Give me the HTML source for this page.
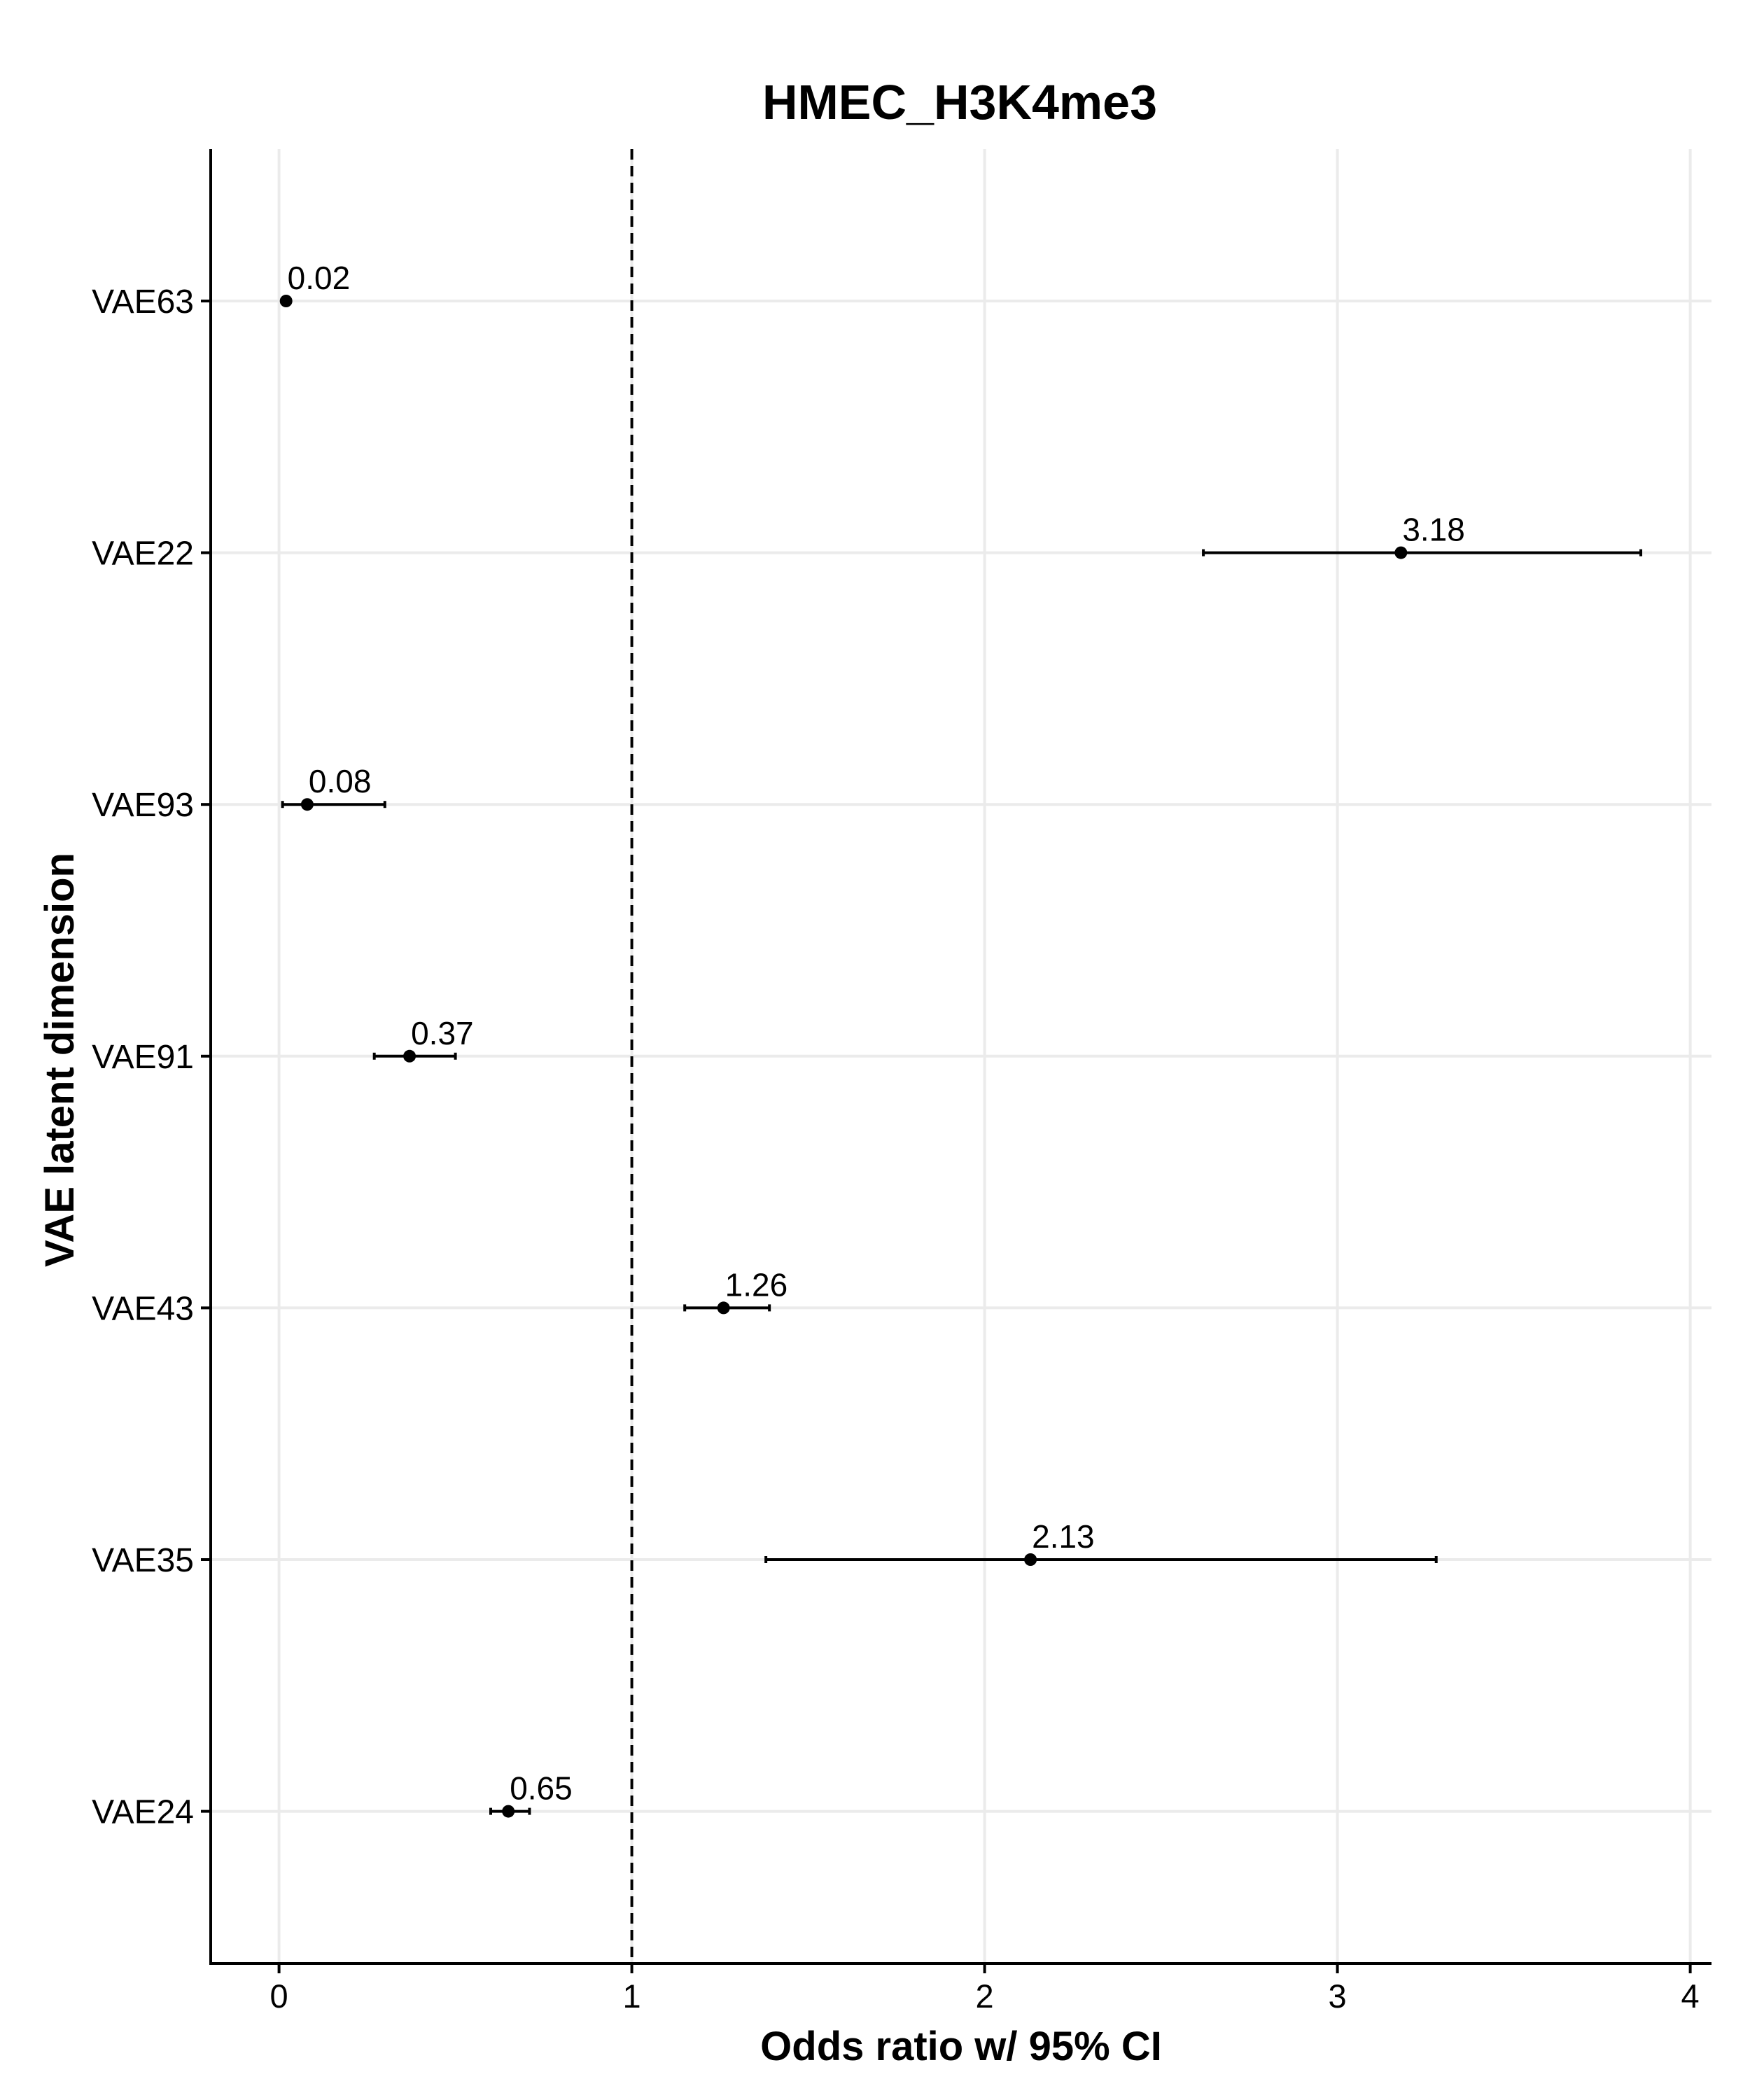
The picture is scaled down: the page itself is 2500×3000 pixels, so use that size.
<!DOCTYPE html>
<html><head><meta charset="utf-8"><style>
html,body{margin:0;padding:0;background:#fff}
svg{display:block}
text{font-family:"Liberation Sans",sans-serif}
</style></head><body>
<svg id="chart" width="2500" height="3000" viewBox="0 0 2500 3000" xmlns="http://www.w3.org/2000/svg">
<text x="1371" y="170" font-size="70" font-weight="bold" text-anchor="middle">HMEC_H3K4me3</text>
<text x="1373" y="2943" font-size="58" font-weight="bold" text-anchor="middle">Odds ratio w/ 95% CI</text>
<text x="0" y="0" font-size="58" font-weight="bold" text-anchor="middle" transform="translate(105,1514) rotate(-90)">VAE latent dimension</text>
<g id="grid"></g><g id="marks"></g><g id="axes"></g>
</svg>
<script>
const categories = ["VAE63","VAE22","VAE93","VAE91","VAE43","VAE35","VAE24"];
const estimates = [0.02, 3.18, 0.08, 0.37, 1.26, 2.13, 0.65];
const lowerCI = [0.01, 2.62, 0.01, 0.27, 1.15, 1.38, 0.60];
const upperCI = [0.03, 3.86, 0.30, 0.50, 1.39, 3.28, 0.71];
const valueLabels = ["0.02","3.18","0.08","0.37","1.26","2.13","0.65"];
const xTicks = [0,1,2,3,4];
const refLine = 1;

const NS = "http://www.w3.org/2000/svg";
const X0 = 398.6, XU = 504;
const xScale = v => X0 + XU * v;
const yScale = i => 430 + i * 359.6;
const pLeft = 301, pRight = 2445, pTop = 213, pBottom = 2805;
function mk(parent, tag, attrs){const e=document.createElementNS(NS,tag);for(const k in attrs)e.setAttribute(k,attrs[k]);document.getElementById(parent).appendChild(e);return e;}

xTicks.forEach(t=>{
  const g=mk('grid','line',{x1:xScale(t),x2:xScale(t),y1:pTop,y2:pBottom,stroke:'#ebebeb','stroke-width':4});
  
  
  const tk=mk('axes','line',{x1:xScale(t),x2:xScale(t),y1:pBottom,y2:pBottom+14,stroke:'#000','stroke-width':4});
  
  
  const tl=mk('axes','text',{x:xScale(t),y:2868,'font-size':47,'text-anchor':'middle',fill:'#000'});
  tl.textContent=String(t);
  
  
});
categories.forEach((c,i)=>{
  const y=yScale(i);
  const g=mk('grid','line',{x1:pLeft,x2:pRight,y1:y,y2:y,stroke:'#ebebeb','stroke-width':4});
  
  
  const tk=mk('axes','line',{x1:pLeft-14,x2:pLeft,y1:y,y2:y,stroke:'#000','stroke-width':4});
  
  
  const tl=mk('axes','text',{x:277,y:y+17,'font-size':48,'text-anchor':'end',fill:'#000'});
  tl.textContent=c;
  
  
});
const rl=mk('marks','line',{x1:xScale(refLine),x2:xScale(refLine),y1:pTop,y2:pBottom,stroke:'#000','stroke-width':4,'stroke-dasharray':'15,9'});


estimates.forEach((v,i)=>{
  const y=yScale(i);
  const el=mk('marks','line',{x1:xScale(lowerCI[i]),x2:xScale(upperCI[i]),y1:y,y2:y,stroke:'#000','stroke-width':4});
  
  
  [lowerCI[i],upperCI[i]].forEach(b=>{
    const cap=mk('marks','line',{x1:xScale(b),x2:xScale(b),y1:y-5,y2:y+5,stroke:'#000','stroke-width':4});
    
    
  });
  const pt=mk('marks','circle',{cx:xScale(v),cy:y,r:9,fill:'#000'});
  
  
  const lb=mk('marks','text',{x:xScale(v)+2,y:y-17,'font-size':46,fill:'#000'});
  lb.textContent=valueLabels[i];
  
  
});
const ax=mk('axes','path',{d:`M${pLeft} ${pTop} V${pBottom} H${pRight}`,fill:'none',stroke:'#000','stroke-width':4});


</script>
</body></html>
